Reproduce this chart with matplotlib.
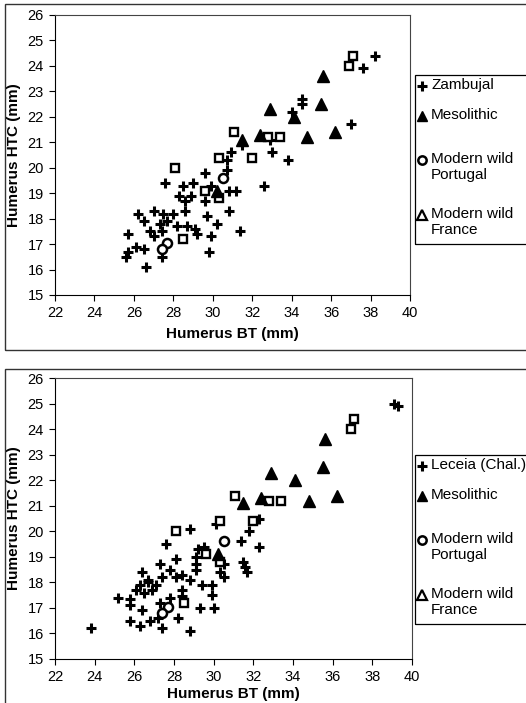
import numpy as np
import matplotlib
matplotlib.use("Agg")
import matplotlib.pyplot as plt
from matplotlib.patches import Rectangle
from matplotlib.lines import Line2D

plt.rcParams['font.family'] = ['Liberation Sans', 'DejaVu Sans']

# ---- data ----
zamb_x = [38.2, 37.6, 37.0, 34.5, 34.5, 34.0, 32.9, 33.0, 33.8, 32.6, 31.5, 30.9,
          30.7, 30.7, 29.6, 30.8, 31.2, 29.9, 29.6, 30.8, 30.2, 29.7, 29.9, 29.8,
          31.4, 29.0, 28.5, 28.3, 28.9, 28.6, 27.6, 28.6, 28.0, 27.5, 27.0, 27.7,
          27.3, 28.2, 28.7, 29.1, 29.2, 26.2, 26.5, 26.8, 27.0, 27.4, 25.7, 25.7,
          25.6, 26.1, 26.5, 26.6, 27.4]
zamb_y = [24.4, 23.9, 21.7, 22.7, 22.5, 22.2, 21.1, 20.6, 20.3, 19.3, 20.9, 20.6,
          20.3, 19.9, 19.8, 19.1, 19.1, 19.3, 18.7, 18.3, 17.8, 18.1, 17.3, 16.7,
          17.5, 19.4, 19.3, 18.9, 18.9, 18.7, 19.4, 18.3, 18.2, 18.2, 18.3, 17.9,
          17.8, 17.7, 17.7, 17.6, 17.4, 18.2, 17.9, 17.5, 17.3, 17.5, 17.4, 16.7,
          16.5, 16.9, 16.8, 16.1, 16.5]

lec_x = [39.1, 39.3, 32.3, 31.8, 31.4, 32.3, 31.5, 31.6, 31.7, 30.1, 28.8, 27.6,
         28.1, 27.3, 27.8, 29.2, 29.5, 29.1, 29.1, 29.1, 30.3, 30.5, 30.5, 29.9,
         29.4, 29.9, 29.3, 30.0, 28.8, 28.2, 27.4, 26.8, 26.3, 25.8, 23.8, 25.2,
         25.8, 25.8, 26.1, 26.4, 26.7, 26.5, 26.9, 27.1, 26.7, 27.4, 28.1, 28.4,
         28.8, 28.4, 27.8, 27.3, 27.2, 26.4, 28.4, 26.3]
lec_y = [25.0, 24.9, 20.5, 20.0, 19.6, 19.4, 18.8, 18.6, 18.4, 20.3, 20.1, 19.5,
         18.9, 18.7, 18.5, 19.3, 19.4, 19.0, 18.7, 18.5, 18.4, 18.2, 18.7, 17.9,
         17.9, 17.5, 17.0, 17.0, 16.1, 16.6, 16.2, 16.5, 16.3, 16.5, 16.2, 17.4,
         17.35, 17.1, 17.7, 18.4, 18.0, 17.6, 17.7, 17.9, 18.1, 18.2, 18.2, 18.3,
         18.1, 17.7, 17.4, 17.2, 16.6, 16.9, 17.45, 17.9]

meso_x = [30.2, 31.5, 32.4, 32.9, 34.1, 34.8, 35.5, 35.6, 36.2]
meso_y = [19.1, 21.1, 21.3, 22.3, 22.0, 21.2, 22.5, 23.6, 21.4]

port_x = [30.5, 27.7, 27.4]
port_y = [19.6, 17.05, 16.8]

fra_x = [28.1, 28.5, 29.6, 30.3, 30.3, 31.1, 32.0, 32.8, 33.4, 36.9, 37.1]
fra_y = [20.0, 17.2, 19.1, 18.8, 20.4, 21.4, 20.4, 21.2, 21.2, 24.0, 24.4]

W, H = 526, 703
fig = plt.figure(figsize=(W / 100, H / 100), dpi=100)


def px_axes(x0, y0, x1, y1):
    return [x0 / W, 1 - y1 / H, (x1 - x0) / W, (y1 - y0) / H]


def fx(x):
    return x / W


def fy(y):
    return 1 - y / H


# outer boxes round the two panels
for (y0, y1) in [(4, 350), (369, 720)]:
    fig.patches.append(Rectangle((fx(5), fy(y1)), 1.0, (y1 - y0) / H,
                                 transform=fig.transFigure, fill=False,
                                 edgecolor='#333333', linewidth=1.0))

panels = [
    (px_axes(55, 15, 410, 295), zamb_x, zamb_y, 'Zambujal', 75, 5),
    (px_axes(55, 378, 412, 659), lec_x, lec_y, 'Leceia (Chal.)', 455, 2),
]

leg_markers = [
    dict(marker='+', color='black', ms=7, mew=2.2),
    dict(marker='^', color='black', ms=7),
    dict(marker='o', mfc='white', mec='black', ms=6, mew=1.8),
    dict(marker='^', mfc='white', mec='black', ms=6.5, mew=1.6),
]
# first-line offsets of each entry below the legend frame top (pixels)
entry_off = [11, 41, 85, 140]

for rect, cx, cy, name, leg_top, xpad in panels:
    ax = fig.add_axes(rect)
    ax.plot(cx, cy, '+', color='black', ms=7, mew=2.2, ls='none')
    ax.plot(fra_x, fra_y, 's', mfc='white', mec='black', ms=5.5, mew=1.7, ls='none')
    ax.plot(meso_x, meso_y, '^', color='black', ms=8, ls='none')
    ax.plot(port_x, port_y, 'o', mfc='white', mec='black', ms=6.5, mew=1.8, ls='none')

    ax.set_xlim(22, 40)
    ax.set_ylim(15, 26)
    ax.set_xticks(np.arange(22, 41, 2))
    ax.set_yticks(np.arange(15, 27, 1))
    ax.tick_params(direction='out', length=4, width=0.8, labelsize=10.5, pad=4)
    for s in ax.spines.values():
        s.set_linewidth(0.8)
        s.set_color('#444444')
    ax.spines['left'].set_color('black')
    ax.spines['bottom'].set_color('black')
    ax.set_xlabel('Humerus BT (mm)', fontsize=11, fontweight='bold', labelpad=xpad)
    ax.set_ylabel('Humerus HTC (mm)', fontsize=11, fontweight='bold', labelpad=5)

    # legend drawn by hand so the entry spacing follows the original
    fig.patches.append(Rectangle((fx(415), fy(leg_top + 169)), 1.0, 169 / H,
                                 transform=fig.transFigure, fill=False,
                                 edgecolor='black', linewidth=0.9))
    labels = [name, 'Mesolithic', 'Modern wild\nPortugal', 'Modern wild\nFrance']
    for off, lab, mk in zip(entry_off, labels, leg_markers):
        y = leg_top + off
        fig.add_artist(Line2D([fx(422)], [fy(y)], transform=fig.transFigure,
                              ls='none', **mk))
        fig.text(fx(431), fy(y - 8), lab, fontsize=11, va='top', ha='left',
                 linespacing=1.2)

fig.savefig('out.png', dpi=100)
